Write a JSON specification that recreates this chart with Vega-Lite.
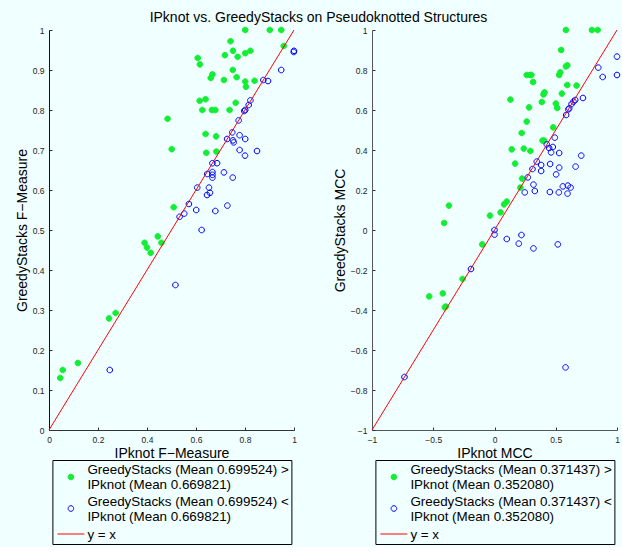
{
  "$schema": "https://vega.github.io/schema/vega-lite/v6.json",
  "background": "#f0ffff",
  "padding": {"left": 15, "top": 11, "right": 2, "bottom": 2},
  "title": {"text": "IPknot vs. GreedyStacks on Pseudoknotted Structures", "fontSize": 14, "font": "Liberation Sans", "fontWeight": "normal", "color": "black", "anchor": "middle", "offset": 0},
  "config": {
    "view": {"stroke": null},
    "font": "Liberation Sans",
    "axis": {"grid": false, "tickSize": -3, "labelPadding": 8, "labelFontSize": 8.5, "labelColor": "#222", "labelFont": "Liberation Sans", "titleFont": "Liberation Sans", "titleFontSize": 14, "titleFontWeight": "normal", "titleColor": "black", "domainColor": "#333", "tickColor": "#333", "labelFlush": false, "labelOverlap": false, "titlePadding": 3, "tickCount": 20},
    "legend": {"labelFont": "Liberation Sans", "labelFontSize": 13.4, "labelColor": "black", "labelLimit": 400, "labelBaseline": "top", "symbolSize": 961, "symbolStrokeWidth": 1, "rowPadding": 1.5, "labelOffset": 0.5, "padding": 2.5, "strokeColor": "black"}
  },
  "bounds": "flush",
  "spacing": 78,
  "resolve": {"scale": {"fill": "independent", "stroke": "independent", "shape": "independent", "x": "independent", "y": "independent"}, "legend": {"fill": "independent", "stroke": "independent", "shape": "independent"}},
  "hconcat": [
    {
      "width": 245,
      "height": 400,
      "layer": [
        {
          "data": {"values": [
            {"x": 0.801, "y": 1.0, "grp": "above"}, {"x": 0.901, "y": 1.0, "grp": "above"}, {"x": 0.948, "y": 1.0, "grp": "above"}, {"x": 0.958, "y": 0.96, "grp": "above"},
            {"x": 0.741, "y": 0.972, "grp": "above"}, {"x": 0.751, "y": 0.948, "grp": "above"}, {"x": 0.718, "y": 0.937, "grp": "above"}, {"x": 0.770, "y": 0.933, "grp": "above"},
            {"x": 0.801, "y": 0.942, "grp": "above"}, {"x": 0.822, "y": 0.948, "grp": "above"}, {"x": 0.607, "y": 0.930, "grp": "above"}, {"x": 0.616, "y": 0.914, "grp": "above"},
            {"x": 0.750, "y": 0.9, "grp": "above"}, {"x": 0.667, "y": 0.889, "grp": "above"}, {"x": 0.660, "y": 0.88, "grp": "above"}, {"x": 0.714, "y": 0.875, "grp": "above"},
            {"x": 0.766, "y": 0.882, "grp": "above"}, {"x": 0.801, "y": 0.871, "grp": "above"}, {"x": 0.804, "y": 0.858, "grp": "above"}, {"x": 0.839, "y": 0.873, "grp": "above"},
            {"x": 0.615, "y": 0.823, "grp": "above"}, {"x": 0.639, "y": 0.827, "grp": "above"}, {"x": 0.626, "y": 0.8, "grp": "above"}, {"x": 0.665, "y": 0.8, "grp": "above"},
            {"x": 0.679, "y": 0.8, "grp": "above"}, {"x": 0.737, "y": 0.8, "grp": "above"}, {"x": 0.762, "y": 0.818, "grp": "above"}, {"x": 0.484, "y": 0.778, "grp": "above"},
            {"x": 0.501, "y": 0.702, "grp": "above"}, {"x": 0.639, "y": 0.74, "grp": "above"}, {"x": 0.682, "y": 0.734, "grp": "above"}, {"x": 0.642, "y": 0.693, "grp": "above"},
            {"x": 0.683, "y": 0.696, "grp": "above"}, {"x": 0.509, "y": 0.557, "grp": "above"}, {"x": 0.444, "y": 0.484, "grp": "above"}, {"x": 0.390, "y": 0.468, "grp": "above"},
            {"x": 0.400, "y": 0.456, "grp": "above"}, {"x": 0.415, "y": 0.443, "grp": "above"}, {"x": 0.459, "y": 0.468, "grp": "above"}, {"x": 0.245, "y": 0.279, "grp": "above"},
            {"x": 0.272, "y": 0.2925, "grp": "above"}, {"x": 0.118, "y": 0.1675, "grp": "above"}, {"x": 0.056, "y": 0.15, "grp": "above"}, {"x": 0.046, "y": 0.13, "grp": "above"},
            {"x": 1.0, "y": 0.948, "grp": "below"}, {"x": 0.999, "y": 0.945, "grp": "below"}, {"x": 0.948, "y": 0.9, "grp": "below"}, {"x": 0.875, "y": 0.875, "grp": "below"},
            {"x": 0.894, "y": 0.8725, "grp": "below"}, {"x": 0.822, "y": 0.824, "grp": "below"}, {"x": 0.815, "y": 0.8125, "grp": "below"}, {"x": 0.801, "y": 0.8, "grp": "below"},
            {"x": 0.797, "y": 0.7975, "grp": "below"}, {"x": 0.774, "y": 0.774, "grp": "below"}, {"x": 0.748, "y": 0.744, "grp": "below"}, {"x": 0.727, "y": 0.7275, "grp": "below"},
            {"x": 0.751, "y": 0.724, "grp": "below"}, {"x": 0.754, "y": 0.719, "grp": "below"}, {"x": 0.778, "y": 0.737, "grp": "below"}, {"x": 0.801, "y": 0.7275, "grp": "below"},
            {"x": 0.778, "y": 0.7, "grp": "below"}, {"x": 0.8, "y": 0.686, "grp": "below"}, {"x": 0.849, "y": 0.6975, "grp": "below"}, {"x": 0.667, "y": 0.667, "grp": "below"},
            {"x": 0.686, "y": 0.667, "grp": "below"}, {"x": 0.646, "y": 0.64, "grp": "below"}, {"x": 0.667, "y": 0.645, "grp": "below"}, {"x": 0.667, "y": 0.638, "grp": "below"},
            {"x": 0.667, "y": 0.631, "grp": "below"}, {"x": 0.714, "y": 0.644, "grp": "below"}, {"x": 0.750, "y": 0.631, "grp": "below"}, {"x": 0.605, "y": 0.606, "grp": "below"},
            {"x": 0.653, "y": 0.606, "grp": "below"}, {"x": 0.645, "y": 0.5875, "grp": "below"}, {"x": 0.657, "y": 0.593, "grp": "below"}, {"x": 0.571, "y": 0.565, "grp": "below"},
            {"x": 0.552, "y": 0.541, "grp": "below"}, {"x": 0.533, "y": 0.533, "grp": "below"}, {"x": 0.601, "y": 0.55, "grp": "below"}, {"x": 0.679, "y": 0.5475, "grp": "below"},
            {"x": 0.728, "y": 0.561, "grp": "below"}, {"x": 0.623, "y": 0.5, "grp": "below"}, {"x": 0.516, "y": 0.3625, "grp": "below"}, {"x": 0.248, "y": 0.15, "grp": "below"}
          ]},
          "mark": {"type": "point", "size": 961, "opacity": 1, "strokeWidth": 1},
          "encoding": {
            "x": {"field": "x", "type": "quantitative", "title": "IPknot F−Measure", "scale": {"domain": [0, 1], "nice": false, "zero": false}, "axis": {"values": [0, 0.2, 0.4, 0.6, 0.8, 1], "format": "~g", "labelOverlap": false, "tickCount": 20, "domainColor": "#333"}},
            "y": {"field": "y", "type": "quantitative", "title": "GreedyStacks F−Measure", "scale": {"domain": [0, 1], "nice": false, "zero": false}, "axis": {"values": [0, 0.1, 0.2, 0.3, 0.4, 0.5, 0.6, 0.7, 0.8, 0.9, 1], "format": "~g", "labelOverlap": false, "tickCount": 20, "domainColor": "#111"}},
            "fill": {"field": "grp", "type": "nominal", "scale": {"domain": ["above", "below", "line"], "range": ["#11ee33", "transparent", "transparent"]},
              "legend": {"title": null, "orient": "none", "legendX": 3.4, "legendY": 430, "direction": "vertical", "encoding": {"symbols": {"y": {"condition": {"test": "datum.value === 'line'", "value": 8.5}, "value": 14.5}}, "labels": {"lineHeight": {"value": 15}, "dy": {"condition": {"test": "datum.value === 'line'", "value": -13.7}, "value": -15.2}}}, "labelExpr": "datum.value === 'above' ? ['GreedyStacks (Mean 0.699524) >', 'IPknot (Mean 0.669821)'] : datum.value === 'below' ? ['GreedyStacks (Mean 0.699524) <', 'IPknot (Mean 0.669821)'] : 'y = x'"}},
            "stroke": {"field": "grp", "type": "nominal", "scale": {"domain": ["above", "below", "line"], "range": ["#11ee33", "#0000ff", "#ff0000"]},
              "legend": {"title": null, "orient": "none", "legendX": 3.4, "legendY": 430, "direction": "vertical", "encoding": {"symbols": {"y": {"condition": {"test": "datum.value === 'line'", "value": 8.5}, "value": 14.5}}, "labels": {"lineHeight": {"value": 15}, "dy": {"condition": {"test": "datum.value === 'line'", "value": -13.7}, "value": -15.2}}}, "labelExpr": "datum.value === 'above' ? ['GreedyStacks (Mean 0.699524) >', 'IPknot (Mean 0.669821)'] : datum.value === 'below' ? ['GreedyStacks (Mean 0.699524) <', 'IPknot (Mean 0.669821)'] : 'y = x'"}},
            "shape": {"field": "grp", "type": "nominal", "scale": {"domain": ["above", "below", "line"], "range": ["M0.1806,0A0.1806,0.1806,0,1,1,-0.1806,0A0.1806,0.1806,0,1,1,0.1806,0Z", "M0.1806,0A0.1806,0.1806,0,1,1,-0.1806,0A0.1806,0.1806,0,1,1,0.1806,0Z", "M-0.871,0H0.871"]},
              "legend": {"title": null, "orient": "none", "legendX": 3.4, "legendY": 430, "direction": "vertical", "encoding": {"symbols": {"y": {"condition": {"test": "datum.value === 'line'", "value": 8.5}, "value": 14.5}}, "labels": {"lineHeight": {"value": 15}, "dy": {"condition": {"test": "datum.value === 'line'", "value": -13.7}, "value": -15.2}}}, "labelExpr": "datum.value === 'above' ? ['GreedyStacks (Mean 0.699524) >', 'IPknot (Mean 0.669821)'] : datum.value === 'below' ? ['GreedyStacks (Mean 0.699524) <', 'IPknot (Mean 0.669821)'] : 'y = x'"}}
          }
        },
        {
          "data": {"values": [{"x": 0, "y": 0}, {"x": 1, "y": 1}]},
          "mark": {"type": "line", "color": "#ff0000", "strokeWidth": 1},
          "encoding": {
            "x": {"field": "x", "type": "quantitative"},
            "y": {"field": "y", "type": "quantitative"}
          }
        }
      ]
    },
    {
      "width": 245,
      "height": 400,
      "layer": [
        {
          "data": {"values": [
            {"x": 0.583, "y": 1.0, "grp": "above"}, {"x": 0.795, "y": 1.0, "grp": "above"}, {"x": 0.842, "y": 1.0, "grp": "above"}, {"x": 0.544, "y": 0.9, "grp": "above"},
            {"x": 0.583, "y": 0.818, "grp": "above"}, {"x": 0.594, "y": 0.823, "grp": "above"}, {"x": 0.536, "y": 0.788, "grp": "above"}, {"x": 0.528, "y": 0.775, "grp": "above"},
            {"x": 0.263, "y": 0.775, "grp": "above"}, {"x": 0.290, "y": 0.775, "grp": "above"}, {"x": 0.301, "y": 0.775, "grp": "above"}, {"x": 0.315, "y": 0.74, "grp": "above"},
            {"x": 0.594, "y": 0.725, "grp": "above"}, {"x": 0.670, "y": 0.722, "grp": "above"}, {"x": 0.408, "y": 0.688, "grp": "above"}, {"x": 0.400, "y": 0.678, "grp": "above"},
            {"x": 0.550, "y": 0.682, "grp": "above"}, {"x": 0.130, "y": 0.652, "grp": "above"}, {"x": 0.386, "y": 0.64, "grp": "above"}, {"x": 0.501, "y": 0.632, "grp": "above"},
            {"x": 0.512, "y": 0.61, "grp": "above"}, {"x": 0.282, "y": 0.613, "grp": "above"}, {"x": 0.263, "y": 0.542, "grp": "above"}, {"x": 0.479, "y": 0.513, "grp": "above"},
            {"x": 0.222, "y": 0.485, "grp": "above"}, {"x": 0.392, "y": 0.447, "grp": "above"}, {"x": 0.405, "y": 0.447, "grp": "above"}, {"x": 0.141, "y": 0.403, "grp": "above"},
            {"x": 0.239, "y": 0.407, "grp": "above"}, {"x": 0.293, "y": 0.395, "grp": "above"}, {"x": 0.168, "y": 0.332, "grp": "above"}, {"x": 0.225, "y": 0.257, "grp": "above"},
            {"x": 0.211, "y": 0.212, "grp": "above"}, {"x": 0.100, "y": 0.142, "grp": "above"}, {"x": 0.078, "y": 0.128, "grp": "above"}, {"x": 0.050, "y": 0.088, "grp": "above"},
            {"x": -0.037, "y": 0.072, "grp": "above"}, {"x": -0.372, "y": 0.122, "grp": "above"}, {"x": -0.411, "y": 0.035, "grp": "above"}, {"x": -0.100, "y": -0.072, "grp": "above"},
            {"x": -0.261, "y": -0.245, "grp": "above"}, {"x": -0.533, "y": -0.332, "grp": "above"}, {"x": -0.422, "y": -0.317, "grp": "above"}, {"x": -0.397, "y": -0.383, "grp": "above"},
            {"x": -0.405, "y": -0.387, "grp": "above"},
            {"x": 1.0, "y": 0.867, "grp": "below"}, {"x": 1.0, "y": 0.775, "grp": "below"}, {"x": 0.847, "y": 0.812, "grp": "below"}, {"x": 0.883, "y": 0.765, "grp": "below"},
            {"x": 0.722, "y": 0.66, "grp": "below"}, {"x": 0.659, "y": 0.65, "grp": "below"}, {"x": 0.645, "y": 0.642, "grp": "below"}, {"x": 0.629, "y": 0.63, "grp": "below"},
            {"x": 0.610, "y": 0.608, "grp": "below"}, {"x": 0.602, "y": 0.603, "grp": "below"}, {"x": 0.585, "y": 0.575, "grp": "below"}, {"x": 0.492, "y": 0.462, "grp": "below"},
            {"x": 0.427, "y": 0.428, "grp": "below"}, {"x": 0.446, "y": 0.41, "grp": "below"}, {"x": 0.476, "y": 0.415, "grp": "below"}, {"x": 0.462, "y": 0.388, "grp": "below"},
            {"x": 0.528, "y": 0.385, "grp": "below"}, {"x": 0.708, "y": 0.372, "grp": "below"}, {"x": 0.345, "y": 0.342, "grp": "below"}, {"x": 0.381, "y": 0.325, "grp": "below"},
            {"x": 0.310, "y": 0.305, "grp": "below"}, {"x": 0.381, "y": 0.295, "grp": "below"}, {"x": 0.454, "y": 0.33, "grp": "below"}, {"x": 0.528, "y": 0.312, "grp": "below"},
            {"x": 0.662, "y": 0.317, "grp": "below"}, {"x": 0.503, "y": 0.278, "grp": "below"}, {"x": 0.272, "y": 0.263, "grp": "below"}, {"x": 0.318, "y": 0.227, "grp": "below"},
            {"x": 0.329, "y": 0.195, "grp": "below"}, {"x": 0.247, "y": 0.188, "grp": "below"}, {"x": 0.452, "y": 0.19, "grp": "below"}, {"x": 0.525, "y": 0.188, "grp": "below"},
            {"x": 0.558, "y": 0.218, "grp": "below"}, {"x": 0.599, "y": 0.222, "grp": "below"}, {"x": 0.621, "y": 0.212, "grp": "below"}, {"x": 0.596, "y": 0.182, "grp": "below"},
            {"x": 0.0, "y": 0.0, "grp": "below"}, {"x": 0.0, "y": -0.023, "grp": "below"}, {"x": 0.1, "y": -0.045, "grp": "below"}, {"x": 0.22, "y": -0.025, "grp": "below"},
            {"x": 0.198, "y": -0.068, "grp": "below"}, {"x": 0.318, "y": -0.092, "grp": "below"}, {"x": 0.517, "y": -0.072, "grp": "below"}, {"x": -0.192, "y": -0.195, "grp": "below"},
            {"x": 0.580, "y": -0.687, "grp": "below"}, {"x": -0.735, "y": -0.735, "grp": "below"}
          ]},
          "mark": {"type": "point", "size": 961, "opacity": 1, "strokeWidth": 1},
          "encoding": {
            "x": {"field": "x", "type": "quantitative", "title": "IPknot MCC", "scale": {"domain": [-1, 1], "nice": false, "zero": false}, "axis": {"values": [-1, -0.5, 0, 0.5, 1], "format": "~g", "labelOverlap": false, "tickCount": 20, "domainColor": "#555"}},
            "y": {"field": "y", "type": "quantitative", "title": "GreedyStacks MCC", "scale": {"domain": [-1, 1], "nice": false, "zero": false}, "axis": {"values": [-1, -0.8, -0.6, -0.4, -0.2, 0, 0.2, 0.4, 0.6, 0.8, 1], "format": "~g", "labelOverlap": false, "tickCount": 20, "domainColor": "#555"}},
            "fill": {"field": "grp", "type": "nominal", "scale": {"domain": ["above", "below", "line"], "range": ["#11ee33", "transparent", "transparent"]},
              "legend": {"title": null, "orient": "none", "legendX": 3.4, "legendY": 430, "direction": "vertical", "encoding": {"symbols": {"y": {"condition": {"test": "datum.value === 'line'", "value": 8.5}, "value": 14.5}}, "labels": {"lineHeight": {"value": 15}, "dy": {"condition": {"test": "datum.value === 'line'", "value": -13.7}, "value": -15.2}}}, "labelExpr": "datum.value === 'above' ? ['GreedyStacks (Mean 0.371437) >', 'IPknot (Mean 0.352080)'] : datum.value === 'below' ? ['GreedyStacks (Mean 0.371437) <', 'IPknot (Mean 0.352080)'] : 'y = x'"}},
            "stroke": {"field": "grp", "type": "nominal", "scale": {"domain": ["above", "below", "line"], "range": ["#11ee33", "#0000ff", "#ff0000"]},
              "legend": {"title": null, "orient": "none", "legendX": 3.4, "legendY": 430, "direction": "vertical", "encoding": {"symbols": {"y": {"condition": {"test": "datum.value === 'line'", "value": 8.5}, "value": 14.5}}, "labels": {"lineHeight": {"value": 15}, "dy": {"condition": {"test": "datum.value === 'line'", "value": -13.7}, "value": -15.2}}}, "labelExpr": "datum.value === 'above' ? ['GreedyStacks (Mean 0.371437) >', 'IPknot (Mean 0.352080)'] : datum.value === 'below' ? ['GreedyStacks (Mean 0.371437) <', 'IPknot (Mean 0.352080)'] : 'y = x'"}},
            "shape": {"field": "grp", "type": "nominal", "scale": {"domain": ["above", "below", "line"], "range": ["M0.1806,0A0.1806,0.1806,0,1,1,-0.1806,0A0.1806,0.1806,0,1,1,0.1806,0Z", "M0.1806,0A0.1806,0.1806,0,1,1,-0.1806,0A0.1806,0.1806,0,1,1,0.1806,0Z", "M-0.871,0H0.871"]},
              "legend": {"title": null, "orient": "none", "legendX": 3.4, "legendY": 430, "direction": "vertical", "encoding": {"symbols": {"y": {"condition": {"test": "datum.value === 'line'", "value": 8.5}, "value": 14.5}}, "labels": {"lineHeight": {"value": 15}, "dy": {"condition": {"test": "datum.value === 'line'", "value": -13.7}, "value": -15.2}}}, "labelExpr": "datum.value === 'above' ? ['GreedyStacks (Mean 0.371437) >', 'IPknot (Mean 0.352080)'] : datum.value === 'below' ? ['GreedyStacks (Mean 0.371437) <', 'IPknot (Mean 0.352080)'] : 'y = x'"}}
          }
        },
        {
          "data": {"values": [{"x": -1, "y": -1}, {"x": 1, "y": 1}]},
          "mark": {"type": "line", "color": "#ff0000", "strokeWidth": 1},
          "encoding": {
            "x": {"field": "x", "type": "quantitative"},
            "y": {"field": "y", "type": "quantitative"}
          }
        }
      ]
    }
  ]
}
